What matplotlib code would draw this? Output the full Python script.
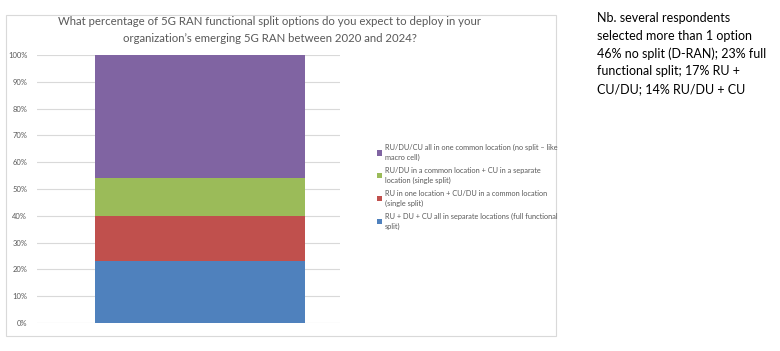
import matplotlib
matplotlib.use("Agg")
import matplotlib.pyplot as plt
from matplotlib.patches import Rectangle, Patch

plt.rcParams['font.family'] = ['Lato', 'DejaVu Sans']

# data (share of respondents, stacked bottom -> top)
labels = [
    'RU + DU + CU all in separate locations (full functional\nsplit)',
    'RU in one location + CU/DU in a common location\n(single split)',
    'RU/DU in a common location + CU in a separate\nlocation (single split)',
    'RU/DU/CU all in one common location (no split \u2013 like\nmacro cell)',
]
values = [23, 17, 14, 46]
colors = ['#4f81bd', '#c0504d', '#9bbb59', '#8064a2']
yticks = [0, 10, 20, 30, 40, 50, 60, 70, 80, 90, 100]

title = ('What percentage of 5G RAN functional split options do you expect to deploy in your\n'
         'organization\u2019s emerging 5G RAN between 2020 and 2024?')
note = ('Nb. several respondents\nselected more than 1 option\n'
        '46% no split (D-RAN); 23% full\nfunctional split; 17% RU +\nCU/DU; 14% RU/DU + CU')

fig = plt.figure(figsize=(7.8, 3.51), dpi=100)

# chart frame
fig.patches.append(Rectangle((6/780, 1-336/351), 550/780, 321/351, transform=fig.transFigure,
                             fill=False, edgecolor='#d9d9d9', linewidth=0.8))

ax = fig.add_axes([37/780, 1-323/351, 303/780, 268/351])
bottom = 0
for v, c in zip(values, colors):
    ax.bar(0.538, v, width=0.693, bottom=bottom, color=c, zorder=3)
    bottom += v

ax.set_xlim(0, 1)
ax.set_ylim(0, 100)
ax.set_yticks(yticks)
ax.set_yticklabels([f'{t}%' for t in yticks], fontsize=5.5, color='#595959')
ax.tick_params(axis='y', length=0, pad=7)
ax.set_xticks([])
ax.grid(axis='y', color='#d9d9d9', linewidth=0.8, zorder=0)
for s in ax.spines.values():
    s.set_visible(False)

fig.text(270/780, 1-30/351, title, ha='center', va='center', fontsize=8.2,
         color='#595959', linespacing=1.7)

handles = [Patch(facecolor=c) for c in colors][::-1]
leg = fig.legend(handles, labels[::-1], loc='upper left', bbox_to_anchor=(374/780, 1-141/351),
                 frameon=False, fontsize=5.3, labelcolor='#595959', handlelength=0.7,
                 handleheight=0.7, handletextpad=0.4, labelspacing=0.75, borderaxespad=0)
for t in leg.get_texts():
    t.set_linespacing(1.5)

fig.text(597/780, 1-12/351, note, ha='left', va='top', fontsize=9, color='black',
         linespacing=1.55)

fig.savefig('out.png', dpi=100)
